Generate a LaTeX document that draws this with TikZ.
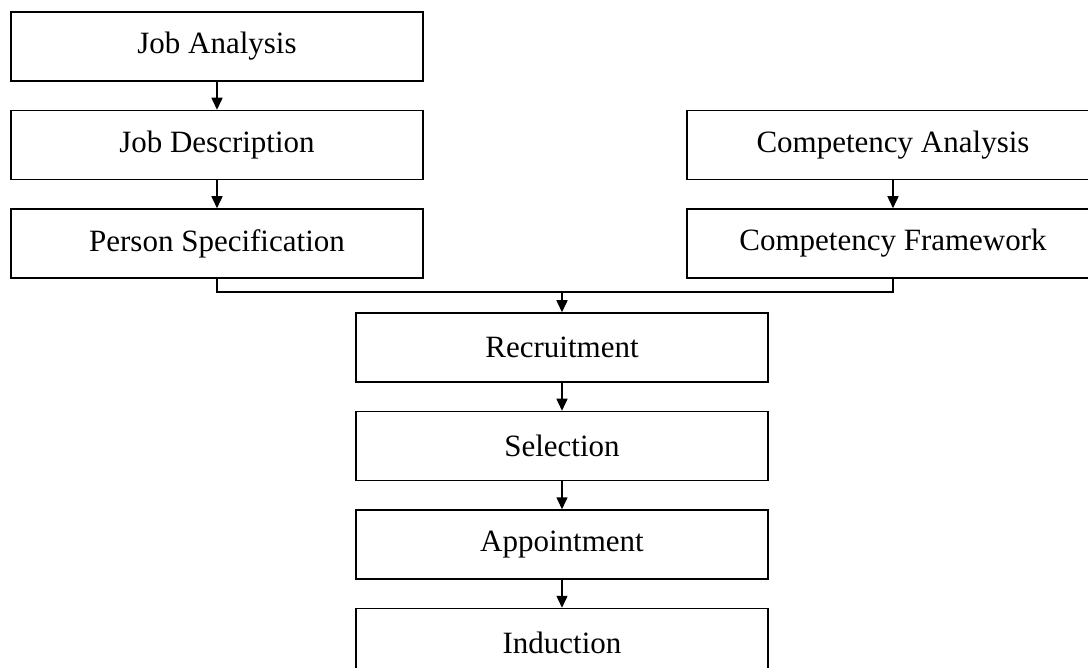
\documentclass[tikz,border=0pt]{standalone}
\usepackage{fontspec}
\setmainfont{Liberation Serif}
\usetikzlibrary{positioning,arrows.meta}

\tikzset{
  stage/.style={draw, line width=0.75pt, minimum width=206pt, minimum height=34.5pt,
    inner sep=0pt, font=\fontsize{15.5}{18}\selectfont},
}

\begin{document}
\begin{tikzpicture}[x=0.5pt, y=-0.5pt, node distance=14pt,
    >={Triangle[length=6pt,width=5.5pt]}, line width=0.75pt]
		\useasboundingbox (0,0) rectangle (1088,668);
		\clip (0,0) rectangle (1088,668);
		% left column
		\node[stage] (ja) at (217,46.5) {Job Analysis};
		\node[stage] (jd) [below=of ja] {Job Description};
		\node[stage] (ps) [below=of jd] {Person Specification};
		% right column
		\node[stage] (ca) at (893,145) {Competency Analysis};
		\node[stage] (cf) [below=of ca] {Competency Framework};
		% main sequence
		\node[stage] (rec) at (562,347.5) {Recruitment};
		\node[stage] (sel) [below=of rec] {Selection};
		\node[stage] (app) [below=of sel] {Appointment};
		\node[stage] (ind) [below=of app] {Induction};
		\coordinate (merge) at (562,292);
		\draw[->](ja) -- (jd);
		\draw[->](jd) -- (ps);
		\draw[->](ca) -- (cf);
		\draw(ps.south) |- (merge) -| (cf.south);
		\draw[->](merge) -- (rec);
		\draw[->](rec) -- (sel);
		\draw[->](sel) -- (app);
		\draw[->](app) -- (ind);
\end{tikzpicture}
\end{document}
